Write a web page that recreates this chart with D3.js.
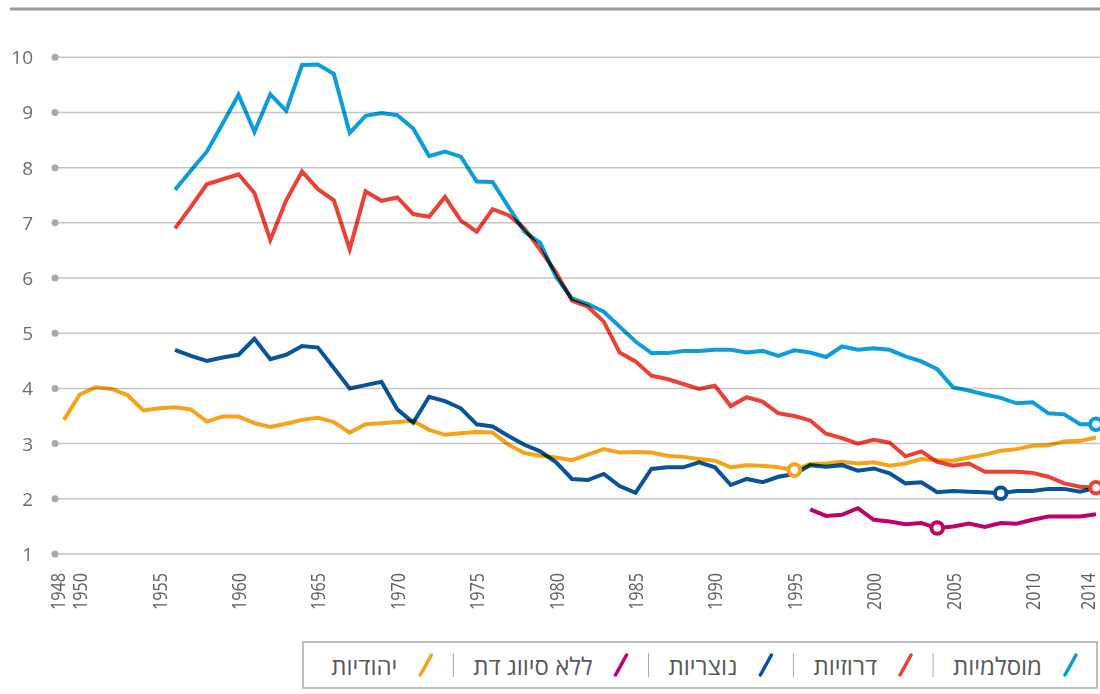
<!DOCTYPE html>
<html>
<head>
<meta charset="utf-8">
<script src="https://cdn.jsdelivr.net/npm/d3@7"></script>
<style>
  body { margin: 0; background: #fff; }
  svg { display: block; font-family: "Open Sans", "Liberation Sans", "DejaVu Sans", sans-serif; }
</style>
</head>
<body>
<div id="chart"></div>
<script>
// Total fertility rate by religion, Israel 1948-2014

var width = 1100;
var height = 694;

// Tick labels
var yTicks = [1, 2, 3, 4, 5, 6, 7, 8, 9, 10];
var xTicks = [1948, 1950, 1955, 1960, 1965, 1970, 1975, 1980, 1985, 1990, 1995, 2000, 2005, 2010, 2014];

// Series values (one value per year from the start year)
var jewishStart = 1949;
var jewish = [3.43, 3.89, 4.02, 3.99, 3.88, 3.60, 3.64, 3.66, 3.62, 3.40,
    3.49, 3.49, 3.37, 3.30, 3.36, 3.43, 3.47, 3.39, 3.20, 3.35,
    3.37, 3.39, 3.41, 3.25, 3.16, 3.19, 3.21, 3.20, 2.98, 2.83,
    2.78, 2.75, 2.70, 2.80, 2.90, 2.84, 2.85, 2.84, 2.78, 2.76,
    2.72, 2.69, 2.57, 2.61, 2.60, 2.57, 2.52, 2.63, 2.64, 2.67,
    2.64, 2.66, 2.60, 2.64, 2.72, 2.70, 2.69, 2.75, 2.80, 2.87,
    2.90, 2.96, 2.97, 3.04, 3.05, 3.11];

var muslimStart = 1956;
var muslim = [7.60, 7.95, 8.29, 8.80, 9.32, 8.65, 9.33, 9.03, 9.86, 9.87,
    9.70, 8.63, 8.94, 8.99, 8.95, 8.71, 8.21, 8.29, 8.20, 7.75,
    7.74, 7.29, 6.84, 6.64, 6.02, 5.63, 5.53, 5.39, 5.12, 4.85,
    4.64, 4.64, 4.68, 4.68, 4.70, 4.70, 4.65, 4.68, 4.59, 4.69,
    4.65, 4.57, 4.76, 4.70, 4.73, 4.70, 4.58, 4.49, 4.35, 4.02,
    3.96, 3.89, 3.83, 3.73, 3.75, 3.55, 3.53, 3.35, 3.35];

var druzeStart = 1956;
var druze = [6.90, 7.29, 7.70, 7.79, 7.88, 7.54, 6.69, 7.41, 7.93, 7.61,
    7.41, 6.52, 7.57, 7.40, 7.46, 7.16, 7.11, 7.47, 7.04, 6.84,
    7.25, 7.14, 6.90, 6.51, 6.10, 5.59, 5.48, 5.21, 4.65, 4.49,
    4.23, 4.17, 4.08, 3.99, 4.05, 3.68, 3.84, 3.76, 3.55, 3.50,
    3.42, 3.18, 3.10, 3.00, 3.07, 3.02, 2.77, 2.86, 2.67, 2.60,
    2.64, 2.49, 2.49, 2.49, 2.47, 2.40, 2.28, 2.22, 2.20];

var christianStart = 1956;
var christian = [4.70, 4.59, 4.50, 4.56, 4.61, 4.90, 4.53, 4.61, 4.77, 4.74,
    4.37, 4.00, 4.06, 4.12, 3.62, 3.38, 3.85, 3.77, 3.64, 3.35,
    3.31, 3.14, 2.98, 2.86, 2.66, 2.36, 2.34, 2.45, 2.23, 2.11,
    2.54, 2.57, 2.57, 2.66, 2.57, 2.25, 2.36, 2.30, 2.40, 2.45,
    2.61, 2.58, 2.61, 2.51, 2.55, 2.46, 2.28, 2.30, 2.12, 2.14,
    2.13, 2.12, 2.10, 2.14, 2.14, 2.18, 2.18, 2.13, 2.20];

var noReligionStart = 1996;
var noReligion = [1.81, 1.69, 1.71, 1.83, 1.62, 1.59, 1.54, 1.56, 1.47, 1.50,
    1.55, 1.49, 1.56, 1.55, 1.62, 1.68, 1.68, 1.68, 1.72];

// Legend names, right to left as drawn
var names = ["מוסלמיות", "דרוזיות", "נוצריות", "ללא סיווג דת", "יהודיות"];
var colors = ["#0d9ddb", "#ee4136", "#08549a", "#c2006b", "#f7a21c"];

// Highlighted year on each series
var markerYears = [2014, 2014, 2008, 2004, 1995];

var series = [
    { start: muslimStart, values: muslim },
    { start: druzeStart, values: druze },
    { start: christianStart, values: christian },
    { start: noReligionStart, values: noReligion },
    { start: jewishStart, values: jewish }
].map(function(s, i) {
    return {
        name: names[i],
        color: colors[i],
        marker: markerYears[i],
        points: s.values.map(function(v, j) { return { year: s.start + j, value: v }; })
    };
});

var svg = d3.select("#chart").append("svg")
    .attr("width", width)
    .attr("height", height);

var x = d3.scaleLinear().domain([1948, 2014]).range([48, 1096]);
var y = d3.scaleLinear().domain([1, 10]).range([554, 57.3]);

// top rule
svg.append("line")
    .attr("x1", 10).attr("x2", width)
    .attr("y1", 9).attr("y2", 9)
    .attr("stroke", "#9a9a9a")
    .attr("stroke-width", 3);

// horizontal grid with dots
var yAxis = svg.append("g");
yAxis.selectAll(".grid")
    .data(yTicks)
    .enter().append("line")
    .attr("x1", 55).attr("x2", width)
    .attr("y1", function(d) { return y(d); })
    .attr("y2", function(d) { return y(d); })
    .attr("stroke", "#c4c4c6")
    .attr("stroke-width", 1.5);

yAxis.selectAll(".dot")
    .data(yTicks)
    .enter().append("circle")
    .attr("cx", 55)
    .attr("cy", function(d) { return y(d); })
    .attr("r", 3.5)
    .attr("fill", "#a7a8aa");

yAxis.selectAll(".ylab")
    .data(yTicks)
    .enter().append("text")
    .attr("x", 33)
    .attr("y", function(d) { return y(d); })
    .attr("text-anchor", "end")
    .attr("dominant-baseline", "central")
    .attr("font-size", 19)
    .attr("fill", "#6d6e71")
    .text(function(d) { return d; });

// x labels, rotated
svg.append("g").selectAll(".xlab")
    .data(xTicks)
    .enter().append("text")
    .attr("transform", function(d) {
        // first and last labels nudged inwards
        var shift = d === 1948 ? 9 : (d === 2014 ? -9 : 0);
        return "translate(" + (x(d) + shift) + ",573) rotate(-90)";
    })
    .attr("text-anchor", "end")
    .attr("dominant-baseline", "central")
    .attr("font-size", 20)
    .attr("textLength", 37)
    .attr("lengthAdjust", "spacingAndGlyphs")
    .attr("fill", "#5f6062")
    .text(function(d) { return d; });

// lines
var line = d3.line()
    .x(function(d) { return x(d.year); })
    .y(function(d) { return y(d.value); });

var lines = svg.append("g");
lines.selectAll(".series")
    .data(series)
    .enter().append("path")
    .attr("class", "series")
    .attr("d", function(d) { return line(d.points); })
    .attr("fill", "none")
    .attr("stroke", function(d) { return d.color; })
    .attr("stroke-width", 4)
    .style("mix-blend-mode", "multiply");

// highlighted points
svg.append("g").selectAll(".marker")
    .data(series)
    .enter().append("circle")
    .attr("cx", function(d) { return x(d.marker); })
    .attr("cy", function(d) {
        var p = d.points.find(function(q) { return q.year === d.marker; });
        return y(p.value);
    })
    .attr("r", 5.8)
    .attr("fill", "#fff")
    .attr("stroke", function(d) { return d.color; })
    .attr("stroke-width", 4);

// legend
var legend = svg.append("g");
legend.append("rect")
    .attr("x", 303).attr("y", 642)
    .attr("width", 794).attr("height", 46)
    .attr("fill", "#fff")
    .attr("stroke", "#a7a8aa")
    .attr("stroke-width", 1.5);

var legendY = 665;
var right = 1080;
series.forEach(function(s, i) {
    legend.append("line")
        .attr("x1", right - 15).attr("y1", legendY + 10)
        .attr("x2", right - 4).attr("y2", legendY - 10)
        .attr("stroke", s.color)
        .attr("stroke-width", 3.5)
        .attr("stroke-linecap", "round");
    var t = legend.append("text")
        .attr("x", right - 38)
        .attr("y", legendY)
        .attr("text-anchor", "end")
        .attr("dominant-baseline", "central")
        .attr("font-size", 24)
        .attr("fill", "#58595b")
        .text(s.name);
    var left = right - 38 - t.node().getComputedTextLength();
    if (i < series.length - 1) {
        legend.append("line")
            .attr("x1", left - 20).attr("x2", left - 20)
            .attr("y1", legendY - 12).attr("y2", legendY + 12)
            .attr("stroke", "#a7a8aa")
            .attr("stroke-width", 1);
    }
    right = left - 38;
});
</script>
</body>
</html>
